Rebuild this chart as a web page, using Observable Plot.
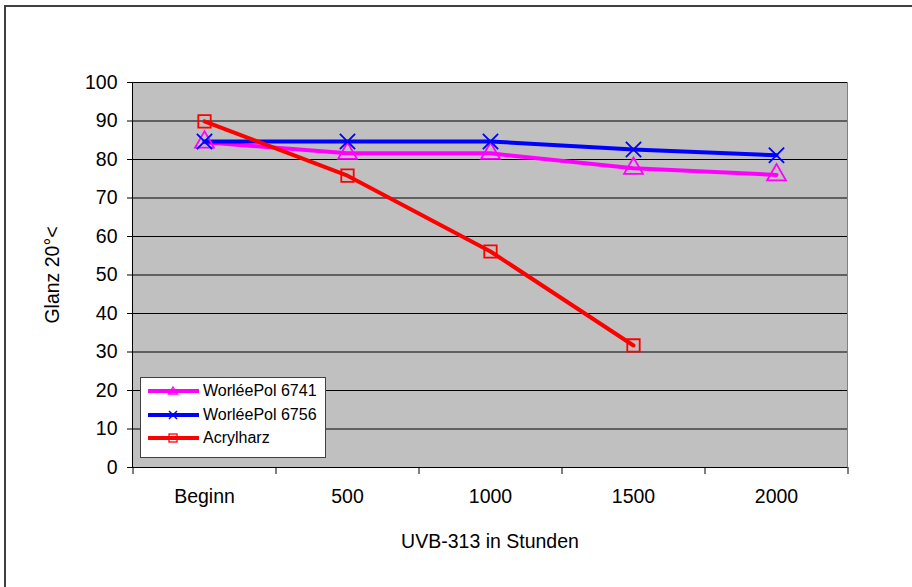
<!DOCTYPE html>
<html><head><meta charset="utf-8">
<script src="https://cdn.jsdelivr.net/npm/d3@7"></script>
<script src="https://cdn.jsdelivr.net/npm/@observablehq/plot@0.6"></script>
<style>
body{margin:0;background:#fff;font-family:"Liberation Sans",Arial,sans-serif;}
#wrap{position:relative;width:912px;height:587px;overflow:hidden;}
#border{position:absolute;left:4px;top:5px;width:920px;height:600px;border:2px solid #404040;box-sizing:border-box;}
#chart{position:absolute;left:0;top:0;}
#legend{position:absolute;left:140px;top:377px;width:186px;height:81px;background:#fff;border:1px solid #404040;box-sizing:border-box;font-size:16px;color:#000;}
.row{position:absolute;left:6px;height:20px;display:flex;align-items:center;}
.row svg{margin-right:2px;}
</style></head>
<body><div id="wrap"><div id="border"></div><div id="chart"></div><div id="legend"></div></div>
<script>
const categories = ["Beginn","500","1000","1500","2000"];
const seriesNames = ["WorléePol 6741","WorléePol 6756","Acrylharz"];
const pol6741 = [84.5, 81.6, 81.6, 77.7, 76.0];
const pol6756 = [84.7, 84.7, 84.7, 82.6, 81.1];
const acryl = [89.9, 75.8, 56.1, 31.7];
const yTicks = [0,10,20,30,40,50,60,70,80,90,100];
const colors = ["#FF00FF","#0000FF","#FF0000"];
const symbols = ["triangle","times","square"];

const all = [pol6741, pol6756, acryl];
const rows = [];
all.forEach((vals, si) => vals.forEach((v, i) => rows.push({series: seriesNames[si], cat: categories[i], v})));

const step = (847-132)/categories.length;
const plot = Plot.plot({
  width: 912, height: 587,
  marginLeft: 132, marginRight: 65, marginTop: 82, marginBottom: 120,
  style: {fontFamily: "Liberation Sans, Arial, sans-serif", fontSize: "19.5px", background: "transparent", color: "#000"},
  x: {type: "point", domain: categories, padding: 0.5, label: null},
  y: {domain: [0, 100], label: null},
  color: {domain: seriesNames, range: colors},
  symbol: {domain: seriesNames, range: symbols},
  marks: [
    Plot.frame({fill: "#C0C0C0", stroke: "#808080"}),
    Plot.gridY(yTicks, {stroke: "#000", strokeOpacity: 1, strokeWidth: 1}),
    Plot.axisY({ticks: yTicks, tickSize: 5, tickPadding: 10, fontSize: 19.5, label: null, stroke: "#000"}),
    Plot.axisX({ticks: categories, tickSize: 0, tickPadding: 22, fontSize: 19.5, label: null}),
    Plot.axisX({ticks: categories, tickSize: 7, dx: -step/2, text: null, label: null, stroke: "#000"}),
    Plot.axisX({ticks: categories.slice(-1), tickSize: 7, dx: step/2, text: null, label: null, stroke: "#000"}),
    Plot.ruleY([0], {stroke: "#000"}),
    Plot.frame({anchor: "left", stroke: "#000"}),
    Plot.line(rows, {x: "cat", y: "v", z: "series", stroke: "series", strokeWidth: 4, strokeLinejoin: "round"}),
    Plot.dot(rows, {x: "cat", y: "v", symbol: "series", stroke: "series", fill: "none", r: 7, strokeWidth: 1.8}),
    Plot.text(["Glanz 20°<"], {frameAnchor: "left", textAnchor: "middle", dx: -80, rotate: -90, fontSize: 19.5}),
    Plot.text(["UVB-313 in Stunden"], {frameAnchor: "bottom", dy: 80, fontSize: 19.5})
  ]
});
document.getElementById("chart").appendChild(plot);

const legend = document.getElementById("legend");
seriesNames.forEach((name, i) => {
  const row = document.createElement("div");
  row.className = "row";
  row.style.top = (3 + i*23.5) + "px";
  let mk = "";
  if (symbols[i] === "triangle") mk = `<path d="M26,6 L30.5,13 L21.5,13 Z" fill="none" stroke="${colors[i]}" stroke-width="1.3"/>`;
  if (symbols[i] === "times") mk = `<path d="M22,6 L30,14 M30,6 L22,14" stroke="${colors[i]}" stroke-width="1.5"/>`;
  if (symbols[i] === "square") mk = `<rect x="22" y="6" width="8" height="8" fill="none" stroke="${colors[i]}" stroke-width="1.3"/>`;
  row.innerHTML = `<svg width="54" height="20"><line x1="1" y1="10" x2="52" y2="10" stroke="${colors[i]}" stroke-width="4"/>${mk}</svg><span>${name}</span>`;
  legend.appendChild(row);
});
</script></body></html>
